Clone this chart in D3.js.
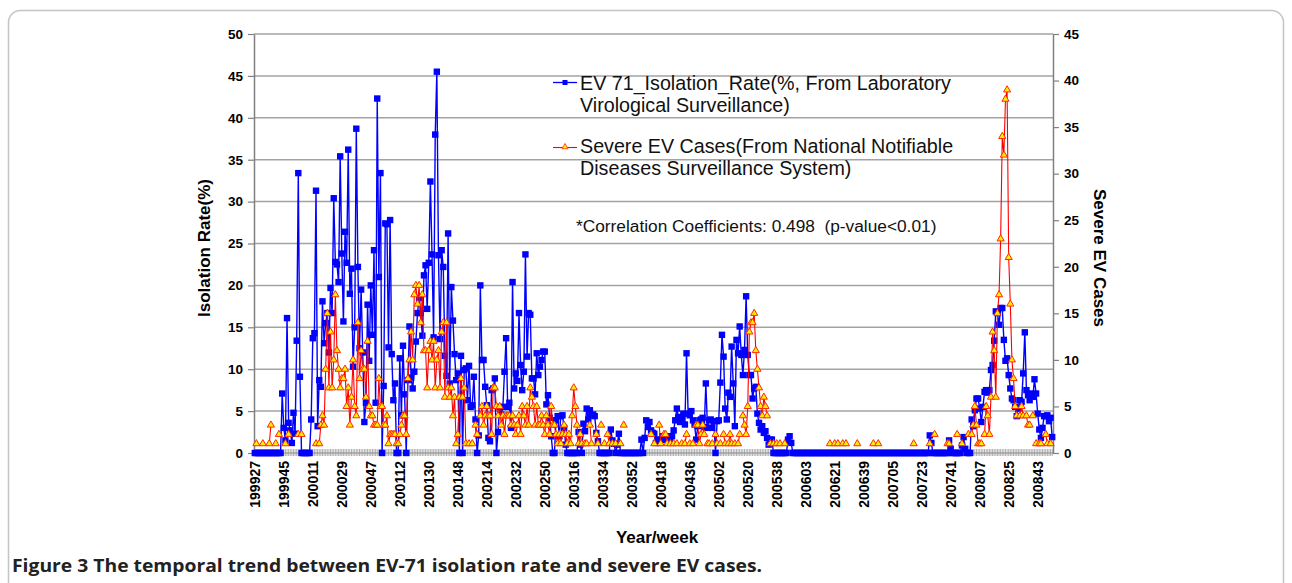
<!DOCTYPE html>
<html>
<head>
<meta charset="utf-8">
<script src="https://cdn.jsdelivr.net/npm/d3@7"></script>
<style>
  body { margin: 0; background: #fff; }
  svg { display: block; font-family: "Liberation Sans", Arial, sans-serif; }
</style>
</head>
<body>
<script>
var _ = null

// one label every 18 weeks, starting at 1999 week 27
var tickLabels = ['199927', '199945', '200011', '200029', '200047', '200112', '200130',
  '200148', '200214', '200232', '200250', '200316', '200334', '200352', '200418',
  '200436', '200502', '200520', '200538', '200603', '200621', '200639', '200705',
  '200723', '200741', '200807', '200825', '200843']
var tickEvery = 18

// EV71 isolation rate (%), one value per week
var isoRate = [
  0, 0, 0, 0, 0, 0, 0, 0, 0, 0,
  0, 0, 0, 0, 0, 0, 0, 7.1, 3.0, 1.5,
  16.1, 3.6, 2.7, 1.2, 4.8, 2.3, 13.4, 33.4, 9.1, 0,
  0, 0, 0, 0, 0, 4.0, 13.7, 14.3, 31.3, 3.2,
  8.7, 7.9, 18.1, 13.1, 15.5, 16.7, 12.0, 19.7, 16.7, 30.4,
  22.8, 22.5, 20.4, 35.4, 23.8, 15.7, 26.4, 22.7, 36.2, 19.0,
  22.0, 10.3, 15.0, 38.7, 22.2, 12.5, 19.5, 12.0, 3.7, 6.0,
  17.7, 11.0, 20.0, 14.1, 24.2, 6.0, 42.3, 21.0, 33.4, 0,
  8.0, 27.4, 27.3, 12.6, 27.8, 11.8, 6.3, 8.3, 0, 0,
  11.3, 4.5, 12.8, 7.0, 0, 8.7, 15.1, 9.0, 7.7, 9.7,
  13.3, 16.7, 18.5, 16.7, 14.0, 21.2, 22.4, 17.2, 22.7, 32.4,
  23.7, 13.8, 38.0, 45.5, 23.6, 13.6, 24.2, 22.2, 11.6, 9.2,
  26.2, 8.3, 19.8, 15.8, 11.8, 8.7, 9.5, 0, 11.6, 0,
  9.9, 10.1, 6.3, 10.4, 5.5, 5.7, 9.1, 4.0, 0, 2.1,
  20.0, 11.1, 11.1, 7.9, 5.7, 1.8, 1.4, 7.5, 7.7, 8.9,
  0, 2.5, 5.5, 4.6, 5.5, 9.7, 13.7, 5.5, 6.0, 3.0,
  20.4, 7.7, 9.5, 8.6, 16.7, 10.5, 7.5, 9.7, 23.7, 11.5,
  16.7, 16.5, 8.9, 8.9, 7.0, 11.9, 9.3, 10.3, 11.1, 12.1,
  12.1, 5.8, 6.9, 4.2, 2.0, 0, 0, 3.9, 4.4, 2.0,
  4.4, 4.5, 3.0, 1.0, 0, 0, 0, 0, 0, 0,
  0, 2.5, 1.0, 0, 3.5, 2.6, 5.3, 4.0, 5.1, 4.5,
  4.6, 4.4, 2.4, 1.4, 0, 0, 0, 0, 0, 0,
  0, 2.8, 1.5, 1.1, 0, 1.0, 2.3, 0, 0, 0,
  0, 0, 0, 0, 0, 0, 0, 0, 0, 0,
  1.6, 0, 1.8, 3.9, 3.1, 3.7, 2.7, 2.4, 2.3, 1.2,
  1.6, 1.2, 1.6, 2.0, 1.6, 1.6, 2.0, 1.5, 1.6, 2.0,
  2.7, 3.9, 5.3, 4.3, 3.7, 4.1, 4.7, 3.4, 11.9, 4.7,
  4.5, 5.0, 3.9, 3.4, 1.6, 3.2, 3.9, 4.0, 4.2, 3.1,
  8.3, 3.0, 3.9, 4.0, 3.0, 3.8, 0, 3.8, 3.9, 8.4,
  14.1, 11.5, 5.3, 4.0, 7.2, 6.7, 12.7, 8.3, 3.2, 13.5,
  11.9, 15.1, 11.7, 9.3, 12.3, 18.7, 11.7, 9.3, 9.3, 6.5,
  7.7, 7.9, 4.7, 3.6, 2.8, 3.2, 2.4, 2.6, 1.8, 1.0,
  1.6, 1.6, 0, 0, 0, 0, 0, 0, 0, 0,
  0, 1.6, 2.0, 1.2, 0, 0, 0, 0, 0, 0,
  0, 0, 0, 0, 0, 0, 0, 0, 0, 0,
  0, 0, 0, 0, 0, 0, 0, 0, 0, 0,
  0, 0, 0, 0, 0, 0, 0, 0, 0, 0,
  0, 0, 0, 0, 0, 0, 0, 0, 0, 0,
  0, 0, 0, 0, 0, 0, 0, 0, 0, 0,
  0, 0, 0, 0, 0, 0, 0, 0, 0, 0,
  0, 0, 0, 0, 0, 0, 0, 0, 0, 0,
  0, 0, 0, 0, 0, 0, 0, 0, 0, 2.1,
  1.2, 0, 0, 0, 0, 0, 0, 0, 0, 0,
  0, 1.5, 0.5, 0, 0, 0, 0, 0, 0, 0.9,
  1.9, 0.5, 0, 0, 0, 4.0, 3.2, 5.1, 6.5, 6.5,
  5.3, 3.7, 5.5, 7.3, 7.5, 7.2, 7.5, 9.9, 10.5, 13.4,
  16.9, 16.7, 15.3, 17.3, 17.3, 13.5, 11.0, 11.3, 9.3, 7.7,
  6.5, 6.3, 5.5, 4.4, 5.3, 6.3, 6.1, 9.5, 14.4, 7.5,
  6.9, 6.3, 7.1, 6.7, 8.8, 7.1, 4.7, 2.8, 1.8, 3.0,
  4.4, 4.4, 4.5, 3.8, 4.2, 1.9
]

// severe EV cases per week (blank weeks have no marker)
var severeCases = [
  _, 1, _, _, _, 1, _, _, _, 1,
  3, _, _, 1, _, 2, _, _, _, 1,
  _, 2, _, _, _, _, _, 2, _, 2,
  _, _, _, _, _, _, _, _, 1, _,
  1, 3, 4, 3, 9, 15, 7, 13, 7, 10,
  17, 11, 9, 7, 8, 8, 9, 5, 7, 3,
  6, 10, 5, 4, 14, 8, 11, 9, 9, 6,
  12, 5, 4, 4, 3, 3, 3, 8, 5, 5,
  3, 3, 4, 1, 2, 2, 2, 2, 1, 1,
  2, 3, 4, 4, 2, 8, 10, 13, 10, 17,
  18, 16, 18, 14, 17, 11, 11, 7, 11, 12,
  10, 12, 7, 10, 11, 7, 13, 14, 6, 14,
  7, 6, 7, 4, 6, 1, 2, 6, 8, 6,
  7, 1, _, 1, _, 1, _, 3, 2, _,
  4, 5, 3, 4, 5, 4, 4, 2, 7, 7,
  5, 4, 5, 3, 4, 2, 4, 4, 4, 3,
  4, 3, 2, 3, 4, 2, 5, 4, 3, 5,
  3, 7, 6, 5, 3, 5, 3, 3, 4, 3,
  2, 4, 3, 2, 5, 3, 3, 2, 1, 2,
  1, 2, 3, 2, 1, 2, 1, 4, 7, 5,
  3, 1, 2, 1, _, 1, 1, _, 3, 1,
  _, _, 2, 1, _, 3, _, 1, _, 2,
  1, _, 1, _, 1, _, _, 1, _, 3,
  _, _, _, _, _, _, _, _, _, _,
  _, _, _, _, _, _, 2, _, 1, _,
  _, 3, 1, _, 2, 2, 1, _, 1, _,
  1, _, 1, _, _, 1, _, 1, 2, _,
  1, _, 1, _, 3, 3, 1, 2, 3, 2,
  _, 1, 1, _, 1, _, 2, 1, _, 1,
  _, 2, 1, _, 1, 2, 1, _, 1, _,
  1, 2, _, 4, 3, 2, 5, 13, 14, 14,
  15, 11, 9, 7, 5, 4, 6, 5, 4, _,
  1, _, 1, _, 1, _, 1, _, _, 1,
  _, _, _, _, _, _, _, _, _, _,
  _, _, _, _, _, _, _, _, _, _,
  _, _, _, _, _, _, _, 1, _, _,
  1, _, 1, _, _, 1, _, 1, _, _,
  _, _, _, _, 1, _, _, _, _, _,
  _, _, _, _, 1, _, _, 1, _, _,
  _, _, _, _, _, _, _, _, _, _,
  _, _, _, _, _, _, _, _, _, 1,
  _, _, _, _, _, _, _, _, _, 1,
  _, _, 2, _, _, _, _, _, _, _,
  1, 1, _, _, _, _, 2, _, _, 1,
  _, _, _, 2, _, 2, 3, 5, 3, 1,
  1, 1, _, 2, 5, 4, 2, 6, 13, 11,
  6, 15, 17, 23, 34, 32, 38, 39, 21, 16,
  10, 8, 5, 4, _, 4, 5, 4, _, 4,
  3, 3, _, 4, _, 1, _, 1, 1, _,
  _, 2, 1, _, 1, _
]

var svg = d3.select('body').append('svg')
  .attr('width', 1292)
  .attr('height', 583)

// rounded figure frame (runs off the bottom)
svg.append('rect')
  .attr('x', 8.5).attr('y', 10.5)
  .attr('width', 1275).attr('height', 640)
  .attr('rx', 12)
  .attr('fill', 'none')
  .attr('stroke', '#c4c4c4')
  .attr('stroke-width', 1.5)

var x = d3.scaleBand()
  .domain(d3.range(isoRate.length))
  .range([254, 1053])

function cx (i) { return x(i) + x.bandwidth() / 2 }

var yL = d3.scaleLinear().domain([0, 50]).range([453, 34])
var yR = d3.scaleLinear().domain([0, 45]).range([453, 34])

// horizontal grid
svg.append('g')
  .selectAll('line')
  .data(d3.range(5, 51, 5))
  .join('line')
  .attr('x1', 254).attr('x2', 1053)
  .attr('y1', function (d) { return yL(d) })
  .attr('y2', function (d) { return yL(d) })
  .attr('stroke', '#a3a3a3')
  .attr('stroke-width', 1.5)

// one little tick per week along the base line
var gx = svg.append('g')
  .attr('transform', 'translate(0,453)')
  .call(d3.axisBottom(x).tickSize(3).tickSizeOuter(0).tickFormat(''))
gx.select('.domain').remove()
gx.selectAll('.tick line')
  .attr('y1', -4)
  .attr('stroke', '#8c8c8c')
  .attr('stroke-width', 0.7)

svg.append('line')
  .attr('x1', 254).attr('x2', 1053)
  .attr('y1', 453).attr('y2', 453)
  .attr('stroke', '#8a8a8a')
  .attr('stroke-width', 1.2)

// left axis
var gl = svg.append('g')
  .attr('transform', 'translate(254,0)')
  .call(d3.axisLeft(yL).tickValues(d3.range(0, 51, 5)).tickSize(6).tickSizeOuter(0).tickPadding(5))
gl.select('.domain').attr('stroke', '#808080').attr('stroke-width', 1.5)
gl.selectAll('.tick line').attr('stroke', '#808080').attr('stroke-width', 1.2)
gl.selectAll('text')
  .attr('font-size', 13.5).attr('font-weight', 'bold').attr('fill', '#000')
  .attr('font-family', '"Liberation Sans", Arial, sans-serif')

// right axis
var gr = svg.append('g')
  .attr('transform', 'translate(1053,0)')
  .call(d3.axisRight(yR).tickValues(d3.range(0, 46, 5)).tickSize(6).tickSizeOuter(0).tickPadding(5))
gr.select('.domain').attr('stroke', '#808080').attr('stroke-width', 1.5)
gr.selectAll('.tick line').attr('stroke', '#808080').attr('stroke-width', 1.2)
gr.selectAll('text')
  .attr('font-size', 13.5).attr('font-weight', 'bold').attr('fill', '#000')
  .attr('font-family', '"Liberation Sans", Arial, sans-serif')

// week labels, rotated
svg.append('g')
  .selectAll('text')
  .data(tickLabels)
  .join('text')
  .attr('transform', function (d, k) { return 'translate(' + cx(k * tickEvery) + ',461) rotate(-90)' })
  .attr('dy', '0.35em')
  .attr('text-anchor', 'end')
  .attr('font-size', 14)
  .attr('font-weight', 'bold')
  .text(function (d) { return d })

// axis titles
svg.append('text')
  .attr('transform', 'translate(210,248) rotate(-90)')
  .attr('text-anchor', 'middle')
  .attr('font-size', 17).attr('font-weight', 'bold')
  .text('Isolation Rate(%)')

svg.append('text')
  .attr('transform', 'translate(1094,258) rotate(90)')
  .attr('text-anchor', 'middle')
  .attr('font-size', 17).attr('font-weight', 'bold')
  .text('Severe EV Cases')

svg.append('text')
  .attr('x', 657).attr('y', 543)
  .attr('text-anchor', 'middle')
  .attr('font-size', 17).attr('font-weight', 'bold')
  .text('Year/week')

// blue series
var lineL = d3.line()
  .defined(function (d) { return d != null })
  .x(function (d, i) { return cx(i) })
  .y(function (d) { return yL(d) })

svg.append('path')
  .datum(isoRate)
  .attr('d', lineL)
  .attr('fill', 'none')
  .attr('stroke', '#0000ff')
  .attr('stroke-width', 1.4)

svg.append('g')
  .selectAll('rect')
  .data(isoRate.map(function (v, i) { return { i: i, v: v } }).filter(function (d) { return d.v != null }))
  .join('rect')
  .attr('x', function (d) { return cx(d.i) - 3.2 })
  .attr('y', function (d) { return yL(d.v) - 3.2 })
  .attr('width', 6.4).attr('height', 6.4)
  .attr('fill', '#0000ff')

// red series
var lineR = d3.line()
  .defined(function (d) { return d != null })
  .x(function (d, i) { return cx(i) })
  .y(function (d) { return yR(d) })

svg.append('path')
  .datum(severeCases)
  .attr('d', lineR)
  .attr('fill', 'none')
  .attr('stroke', '#ff0000')
  .attr('stroke-width', 1.1)

var tri = d3.symbol(d3.symbolTriangle, 22)

svg.append('g')
  .selectAll('path')
  .data(severeCases.map(function (v, i) { return { i: i, v: v } }).filter(function (d) { return d.v != null }))
  .join('path')
  .attr('transform', function (d) { return 'translate(' + cx(d.i) + ',' + yR(d.v) + ')' })
  .attr('d', tri)
  .attr('fill', '#ffee00')
  .attr('stroke', '#ff2a00')
  .attr('stroke-width', 1)

// legend
var leg = svg.append('g')
leg.append('line').attr('x1', 553).attr('x2', 577).attr('y1', 82.5).attr('y2', 82.5)
  .attr('stroke', '#0000ff').attr('stroke-width', 1.3)
leg.append('rect').attr('x', 562.5).attr('y', 80).attr('width', 5).attr('height', 5).attr('fill', '#0000ff')
leg.append('line').attr('x1', 553).attr('x2', 577).attr('y1', 147.5).attr('y2', 147.5)
  .attr('stroke', '#ff0000').attr('stroke-width', 1.1)
leg.append('path').attr('transform', 'translate(565,147)').attr('d', d3.symbol(d3.symbolTriangle, 16))
  .attr('fill', '#ffee00').attr('stroke', '#ff2a00').attr('stroke-width', 0.8)

var legLines = [
  ['EV 71_Isolation_Rate(%, From Laboratory', 89.5],
  ['Virological Surveillance)', 111.5],
  ['Severe EV Cases(From National Notifiable', 152.5],
  ['Diseases Surveillance System)', 174.5]
]
leg.selectAll('text.lg')
  .data(legLines)
  .join('text')
  .attr('class', 'lg')
  .attr('x', 580)
  .attr('y', function (d) { return d[1] })
  .attr('font-size', 19.7)
  .attr('fill', '#111')
  .text(function (d) { return d[0] })

svg.append('text')
  .attr('x', 576).attr('y', 231.5)
  .attr('font-size', 17.3)
  .attr('fill', '#111')
  .style('white-space', 'pre')
  .text('*Correlation Coefficients: 0.498  (p-value<0.01)')

// caption
svg.append('text')
  .attr('x', 12).attr('y', 572)
  .attr('font-family', '"Open Sans", "Noto Sans", sans-serif')
  .attr('font-size', 18.5)
  .attr('font-weight', 'bold')
  .attr('fill', '#222')
  .attr('textLength', 750)
  .attr('lengthAdjust', 'spacingAndGlyphs')
  .text('Figure 3 The temporal trend between EV-71 isolation rate and severe EV cases.')
</script>
</body>
</html>
